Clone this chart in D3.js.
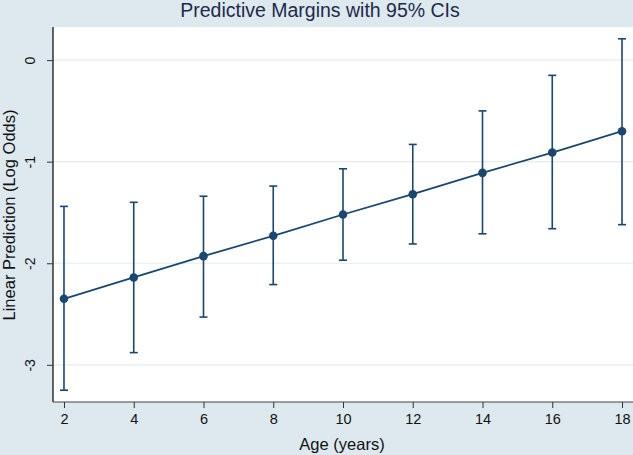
<!DOCTYPE html>
<html><head><meta charset="utf-8">
<script src="https://cdn.jsdelivr.net/npm/d3@7"></script>
<style>html,body{margin:0;padding:0;background:#dde9ef;}svg{display:block;}</style>
</head><body>
<svg id="c" width="633" height="455"></svg>
<script>
const ages = [2, 4, 6, 8, 10, 12, 14, 16, 18];
const margins = [-2.35, -2.14, -1.93, -1.73, -1.52, -1.32, -1.11, -0.91, -0.70];
const ciLower = [-3.25, -2.88, -2.53, -2.21, -1.97, -1.81, -1.71, -1.66, -1.62];
const ciUpper = [-1.44, -1.40, -1.34, -1.24, -1.07, -0.83, -0.50, -0.15, 0.21];
const xTicks = [2, 4, 6, 8, 10, 12, 14, 16, 18];
const yTicks = [0, -1, -2, -3];

const W = 633, H = 455;
const pL = 53, pT = 27, pR = 633, pB = 402;
const svg = d3.select("#c");
const font = "'Liberation Sans', Arial, Helvetica, sans-serif";
const navy = "#1a476f";

svg.append("rect").attr("width", W).attr("height", H).attr("fill", "#dde9ef");
svg.append("rect").attr("x", pL).attr("y", pT).attr("width", pR - pL).attr("height", pB - pT).attr("fill", "#ffffff");

const x = d3.scaleLinear().domain([1.685, 18.315]).range([pL, pR]);
const y = d3.scaleLinear().domain([-3.366, 0.326]).range([pB, pT]);

// grid
svg.append("g").selectAll("line").data(yTicks).join("line")
  .attr("x1", pL).attr("x2", pR)
  .attr("y1", d => y(d)).attr("y2", d => y(d))
  .attr("stroke", "#e3ecf0").attr("stroke-width", 1.2);

// y axis
const ya = svg.append("g").attr("transform", `translate(${pL},0)`)
  .call(d3.axisLeft(y).tickValues(yTicks).tickSize(6).tickPadding(4).tickFormat(d => String(d)));
ya.select(".domain").attr("stroke", "#000").attr("stroke-width", 1.2).attr("d", `M0,${pT}V${pB}`);
ya.selectAll(".tick line").attr("stroke", "#333");
ya.selectAll(".tick text")
  .attr("font-family", font).attr("font-size", 14).attr("fill", "#111")
  .attr("text-anchor", "middle").attr("x", 0).attr("dy", 0)
  .attr("transform", "translate(-18,0) rotate(-90)");

// x axis
const xa = svg.append("g").attr("transform", `translate(0,${pB})`)
  .call(d3.axisBottom(x).tickValues(xTicks).tickSize(6).tickPadding(6).tickFormat(d => String(d)));
xa.select(".domain").attr("stroke", "#444").attr("stroke-width", 1.2).attr("d", `M${pL},0H${pR}`);
xa.selectAll(".tick line").attr("stroke", "#333");
xa.selectAll(".tick text").attr("font-family", font).attr("font-size", 14.5).attr("fill", "#111");

// CI bars
const ci = svg.append("g").attr("stroke", navy).attr("stroke-width", 1.6).attr("fill", "none");
ages.forEach((a, i) => {
  const cx = x(a);
  ci.append("line").attr("x1", cx).attr("x2", cx).attr("y1", y(ciLower[i])).attr("y2", y(ciUpper[i]));
  ci.append("line").attr("x1", cx - 4).attr("x2", cx + 4).attr("y1", y(ciLower[i])).attr("y2", y(ciLower[i]));
  ci.append("line").attr("x1", cx - 4).attr("x2", cx + 4).attr("y1", y(ciUpper[i])).attr("y2", y(ciUpper[i]));
});

// line
const line = d3.line().x((d, i) => x(ages[i])).y(d => y(d));
svg.append("path").datum(margins).attr("d", line).attr("fill", "none").attr("stroke", navy).attr("stroke-width", 1.8);

// points
svg.append("g").selectAll("circle").data(margins).join("circle")
  .attr("cx", (d, i) => x(ages[i])).attr("cy", d => y(d)).attr("r", 4.3).attr("fill", navy);

// titles
svg.append("text").attr("x", 320).attr("y", 17).attr("text-anchor", "middle")
  .attr("font-family", font).attr("font-size", 19.5).attr("fill", "#1e2a4a")
  .text("Predictive Margins with 95% CIs");
svg.append("text").attr("x", 342).attr("y", 450).attr("text-anchor", "middle")
  .attr("font-family", font).attr("font-size", 16.5).attr("fill", "#111")
  .text("Age (years)");
svg.append("text").attr("transform", `translate(15,215) rotate(-90)`)
  .attr("text-anchor", "middle")
  .attr("font-family", font).attr("font-size", 16.5).attr("fill", "#111")
  .text("Linear Prediction (Log Odds)");
</script>
</body></html>
